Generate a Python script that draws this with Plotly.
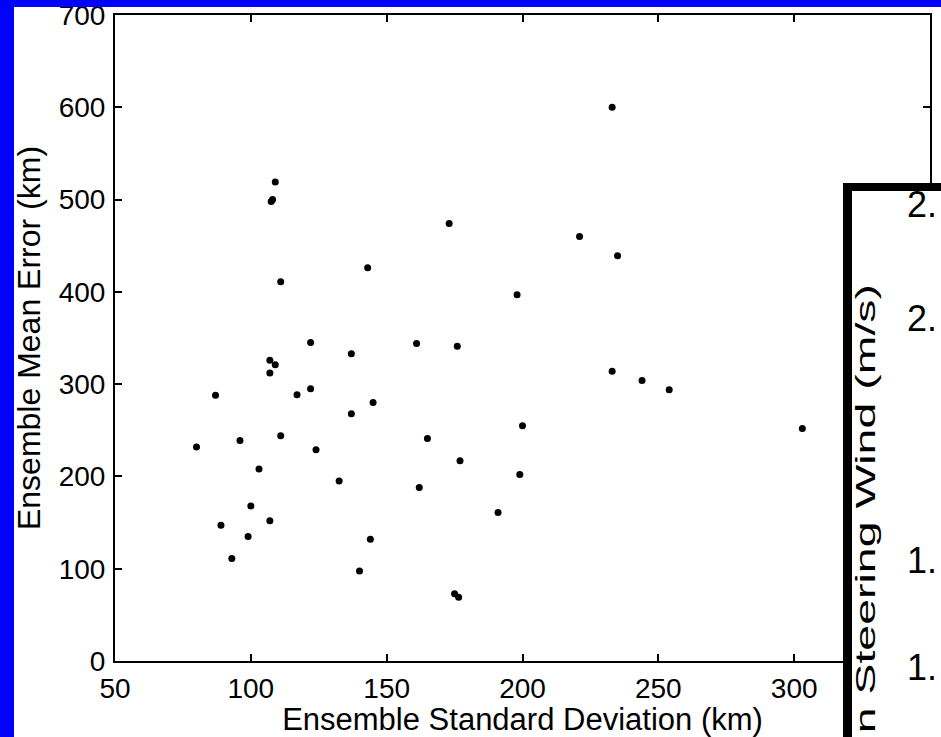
import plotly.graph_objects as go

# ---- data ----
std_dev_km = [233, 109, 108, 107.5, 173, 221, 235, 143, 111, 198,
              122, 161, 176, 137, 107, 109, 233, 107, 244, 122,
              254, 117, 87, 145, 137, 200, 303, 111, 165, 96,
              80, 124, 177, 103, 199, 132.5, 162, 100, 191, 107,
              89, 99, 144, 93, 140, 175, 176.5]
mean_error_km = [600, 519, 500, 498, 474, 460, 439, 426, 411, 397,
                 345, 344, 341, 333, 326, 321, 314, 312, 304, 295,
                 294, 288.5, 288, 280, 268, 255, 252, 244, 241, 239,
                 232, 229, 217, 208, 202, 195, 188, 168, 161, 152,
                 147, 135, 132, 111, 97.5, 73, 69]
x_ticks = [50, 100, 150, 200, 250, 300]
y_ticks = [0, 100, 200, 300, 400, 500, 600, 700]
x_title = "Ensemble Standard Deviation (km)"
y_title = "Ensemble Mean Error (km)"
inset_tick_labels = ["2.", "2.", "1.", "1."]
inset_y_title = "n Steering Wind (m/s)"

# ---- layout geometry (pixels) ----
W, H = 941, 737
L, R, T, B = 115, 11, 15, 76
PW, PH = W - L - R, H - T - B


def fx(xpix):
    return (xpix - L) / PW


def fy(ypix):
    return (H - B - ypix) / PH


FONT = "Liberation Sans, Arial, Helvetica, sans-serif"

fig = go.Figure()
fig.add_trace(go.Scatter(
    x=std_dev_km, y=mean_error_km, mode="markers",
    marker=dict(color="black", size=7, line=dict(width=0)),
    showlegend=False, hoverinfo="x+y",
))

axis_common = dict(
    showline=True, linecolor="black", linewidth=2, mirror="ticks",
    ticks="inside", ticklen=7, tickwidth=2, tickcolor="black",
    showgrid=False, zeroline=False, ticklabeloverflow="allow",
    tickfont=dict(family=FONT, size=28, color="black"),
)
fig.update_xaxes(range=[50, 350], tickvals=x_ticks, ticklabelstandoff=1,
                 title=dict(text=x_title, font=dict(family=FONT, size=31, color="black"), standoff=8),
                 **axis_common)
fig.update_yaxes(range=[0, 700], tickvals=y_ticks, ticklabelstandoff=2,
                 title=dict(text=y_title, font=dict(family=FONT, size=32, color="black"), standoff=8),
                 **axis_common)

shapes = []
# blue slide border (left and top)
shapes.append(dict(type="rect", xref="paper", yref="paper", layer="above",
                   x0=fx(-5), x1=fx(14), y0=fy(H + 5), y1=fy(-5),
                   fillcolor="#0000ff", line=dict(width=0)))
shapes.append(dict(type="rect", xref="paper", yref="paper", layer="above",
                   x0=fx(-5), x1=fx(W + 5), y0=fy(7), y1=fy(-5),
                   fillcolor="#0000ff", line=dict(width=0)))
# overlapping second figure (black frame + white inside)
shapes.append(dict(type="rect", xref="paper", yref="paper", layer="above",
                   x0=fx(843), x1=fx(W + 20), y0=fy(H + 20), y1=fy(183),
                   fillcolor="black", line=dict(width=0)))
shapes.append(dict(type="rect", xref="paper", yref="paper", layer="above",
                   x0=fx(852), x1=fx(W + 20), y0=fy(H + 20), y1=fy(191),
                   fillcolor="white", line=dict(width=0)))

annotations = []
inset_label_rows = [205, 318, 560, 668]
for lab, ypix in zip(inset_tick_labels, inset_label_rows):
    annotations.append(dict(text=lab, xref="paper", yref="paper",
                            x=fx(905), y=fy(ypix), xanchor="left", yanchor="middle",
                            showarrow=False,
                            font=dict(family=FONT, size=36, color="black")))
annotations.append(dict(text=inset_y_title, xref="paper", yref="paper",
                        x=fx(866), y=fy(509), xanchor="center", yanchor="middle",
                        textangle=-90, showarrow=False,
                        font=dict(family=FONT, size=28, color="black")))

fig.update_layout(
    width=W, height=H,
    margin=dict(l=L, r=R, t=T, b=B, autoexpand=False),
    paper_bgcolor="white", plot_bgcolor="white",
    shapes=shapes, annotations=annotations,
    showlegend=False,
)

post = """
var gd = document.getElementById('{plot_id}');
gd.querySelectorAll('text.annotation-text').forEach(function(t){
  if (t.textContent.indexOf('Steering') >= 0) {
    t.style.transformBox = 'fill-box';
    t.style.transformOrigin = 'center';
    t.style.transform = 'scaleX(1.66)';
  }
});
"""

fig.write_html("out.html", post_script=post)
